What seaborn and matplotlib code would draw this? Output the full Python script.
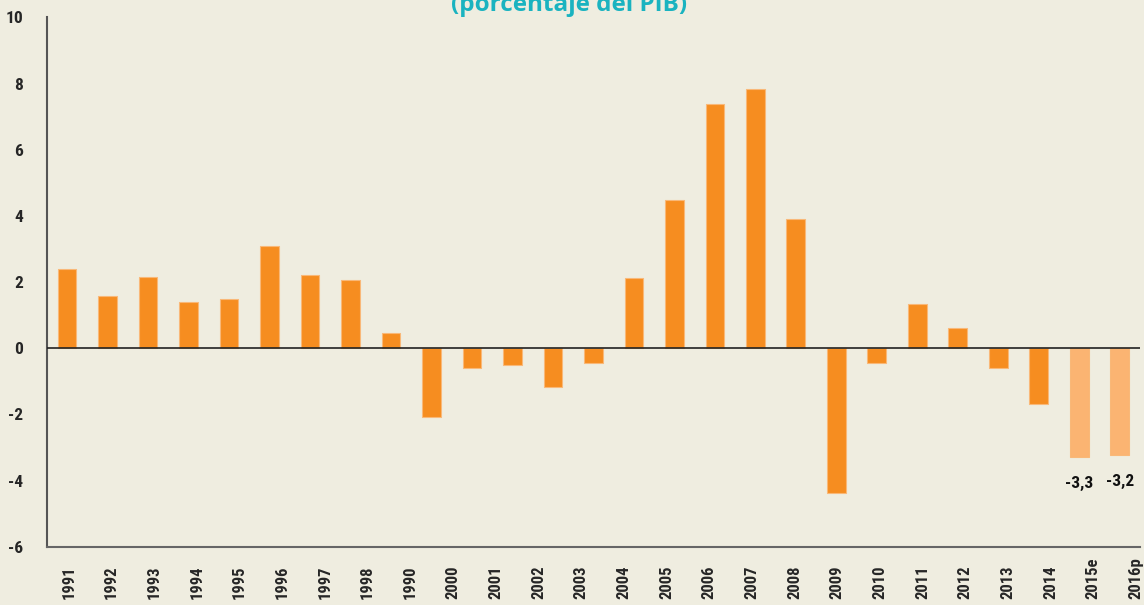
"""
Saldo en porcentaje del PIB: barras por año, con estimación 2015e y proyección 2016p.
"""
import numpy as np
import pandas as pd
import matplotlib
matplotlib.use("Agg")
import matplotlib.pyplot as plt
from matplotlib import font_manager
import seaborn as sns

# --- datos ---
valores = [2.38, 1.57, 2.14, 1.41, 1.48, 3.10, 2.21, 2.05, 0.45, -2.07,
           -0.60, -0.52, -1.17, -0.44, 2.13, 4.47, 7.37, 7.85, 3.90, -4.39,
           -0.44, 1.33, 0.60, -0.60, -1.69, -3.28, -3.24]
tipo = ["observado"] * 25 + ["estimado"] * 2
etiquetas_x = ["1991", "1992", "1993", "1994", "1995", "1996", "1997", "1998",
               "1990", "2000", "2001", "2002", "2003", "2004", "2005", "2006",
               "2007", "2008", "2009", "2010", "2011", "2012", "2013", "2014",
               "2015e", "2016p"]
etiquetas_y = [-6, -4, -2, 0, 2, 4, 6, 8, 10]
anotaciones = {25: "-3,3", 26: "-3,2"}
titulo = "(porcentaje del PIB)"

FONDO = "#EFEDE0"
NARANJA = "#F68D20"
NARANJA_CLARO = "#FBB472"

sns.set_style("white")

# buscar una fuente estrecha, si hay alguna instalada
estrechas = {}
for f in font_manager.fontManager.ttflist:
    st = str(f.stretch).lower()
    if "narrow" in f.name.lower() or "condensed" in f.name.lower():
        estrechas.setdefault(f.name, "normal")
    elif st in ("condensed", "semi-condensed", "extra-condensed") or (st.isdigit() and int(st) < 500):
        estrechas.setdefault(f.name, "condensed")
preferidas = ["Roboto Condensed", "Liberation Sans Narrow", "DejaVu Sans Condensed",
              "Open Sans Condensed", "Noto Sans", "DejaVu Sans", "Roboto"]
fam, estiramiento = "DejaVu Sans", "normal"
for p in preferidas:
    if p in estrechas:
        fam, estiramiento = p, estrechas[p]
        break
plt.rcParams['font.family'] = [fam, 'DejaVu Sans']
plt.rcParams['font.stretch'] = estiramiento

df = pd.DataFrame({"pos": range(len(valores)), "valor": valores, "tipo": tipo})

fig = plt.figure(figsize=(11.44, 6.05), dpi=100, facecolor=FONDO)
ax = fig.add_axes([0.0408, 0.0964, 0.9557, 0.8748])
ax.set_facecolor(FONDO)

sns.barplot(data=df, x="pos", y="valor", hue="tipo", dodge=False, saturation=1,
            palette={"observado": NARANJA, "estimado": NARANJA_CLARO},
            width=0.46, legend=False, edgecolor="#F9B878", linewidth=0.8, ax=ax)

ax.axhline(0, color="#222222", lw=1.2, zorder=3)
ax.set_xlim(-0.5, len(valores) - 0.5)
ax.set_ylim(-6, 10)
ax.set_yticks(etiquetas_y)
ax.set_yticklabels([str(v) for v in etiquetas_y], fontsize=12.5, fontweight="bold")

# etiquetas del eje x repartidas a lo ancho (no coinciden con las barras)
pos_x = np.linspace(0.05, 26.4, len(etiquetas_x))
ax.set_xticks(pos_x)
ax.set_xticklabels(etiquetas_x, rotation=90, va="bottom", fontsize=12, fontweight="bold")
ax.tick_params(axis="x", length=0, pad=38)
ax.tick_params(axis="y", length=0, pad=17)
ax.set_xlabel("")
ax.set_ylabel("")

for s in ["top", "right"]:
    ax.spines[s].set_visible(False)
ax.spines["left"].set_color("#555555")
ax.spines["left"].set_linewidth(1.5)
ax.spines["bottom"].set_color("#666666")
ax.spines["bottom"].set_linewidth(1.5)

for i, txt in anotaciones.items():
    ax.text(i, valores[i] - 0.8, txt, ha="center", va="center",
            fontsize=12.5, fontweight="bold", color="#111111")

# el título queda recortado por arriba, como en el original
fig.text(0.497, 0.9826, titulo, ha="center", va="baseline", fontsize=17.5,
         fontweight="bold", color="#1AB3C0", family=["Open Sans", "DejaVu Sans"],
         stretch="normal")

fig.savefig("out.png", dpi=100, facecolor=FONDO)
